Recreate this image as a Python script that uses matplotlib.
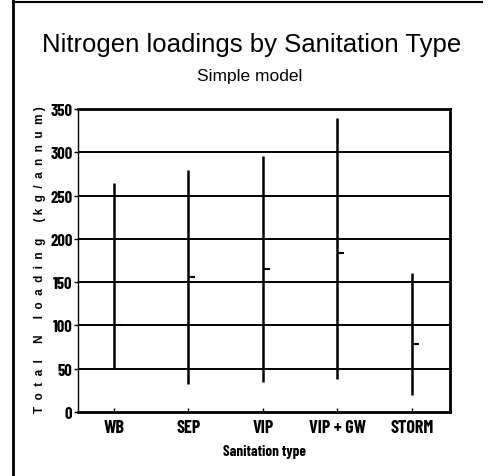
import numpy as np
import matplotlib
matplotlib.use('Agg')
import matplotlib.pyplot as plt
from matplotlib.lines import Line2D
from matplotlib.markers import TICKRIGHT

# high / low / mean nitrogen loading per sanitation type (kg/annum)
types = ['WB', 'SEP', 'VIP', 'VIP + GW', 'STORM']
high = [265, 280, 296, 340, 161]
low = [51, 32, 35, 38, 20]
mean = [101, 156, 165, 184, 79]
yticks = [0, 50, 100, 150, 200, 250, 300, 350]

narrow = ['Barlow Condensed', 'DejaVu Sans']
plt.rcParams['font.family'] = ['Liberation Sans', 'DejaVu Sans']

fig = plt.figure(figsize=(4.89, 4.77), dpi=100)
ax = fig.add_axes([78/489, 1-413/477, (450-78)/489, (413-110)/477])

x = np.arange(len(types))
for yv in yticks[1:-1]:
    ax.axhline(yv, color='black', lw=1.4, zorder=1)
ax.vlines(x, low, high, color='black', lw=1.8, zorder=2)
ax.plot(x, mean, ls='none', marker=TICKRIGHT, ms=5, mew=1.5, color='black', zorder=3)

ax.set_xlim(-0.48, 4.51)
ax.set_ylim(0, 350)
ax.set_yticks(yticks)
ax.set_yticklabels([str(v) for v in yticks], family=narrow, fontsize=12, fontweight='bold')
ax.set_xticks(x)
ax.set_xticklabels(types, family=narrow, fontsize=13, fontweight='bold')
ax.tick_params(axis='y', length=3, width=1, pad=1)
ax.tick_params(axis='x', length=3, width=1, direction='in', pad=5)
ax.spines['left'].set_linewidth(1.0)
for s in ('bottom', 'right', 'top'):
    ax.spines[s].set_linewidth(2.0)

ax.set_xlabel('Sanitation type', family=narrow, fontsize=10.8, fontweight='bold', labelpad=6)
fig.text(40/489, 1-260/477, 'T  o  t  a  l     N     l  o  a  d  i  n  g     ( k  g  /  a  n  n  u  m )',
         rotation=90, ha='center', va='center', fontsize=8.4, fontweight='bold')

fig.text(252/489, 1-45/477, 'Nitrogen loadings by Sanitation Type',
         ha='center', va='center', fontsize=18.5)
fig.text(250/489, 1-77/477, 'Simple model', ha='center', va='center', fontsize=12.5)

# scanned page frame
fig.add_artist(Line2D([13/489, 13/489], [0, 1], transform=fig.transFigure, color='black', lw=2))
fig.add_artist(Line2D([13/489, 482/489], [1-3/477, 1-3/477], transform=fig.transFigure, color='black', lw=1.5))

fig.savefig('out.png', dpi=100)
